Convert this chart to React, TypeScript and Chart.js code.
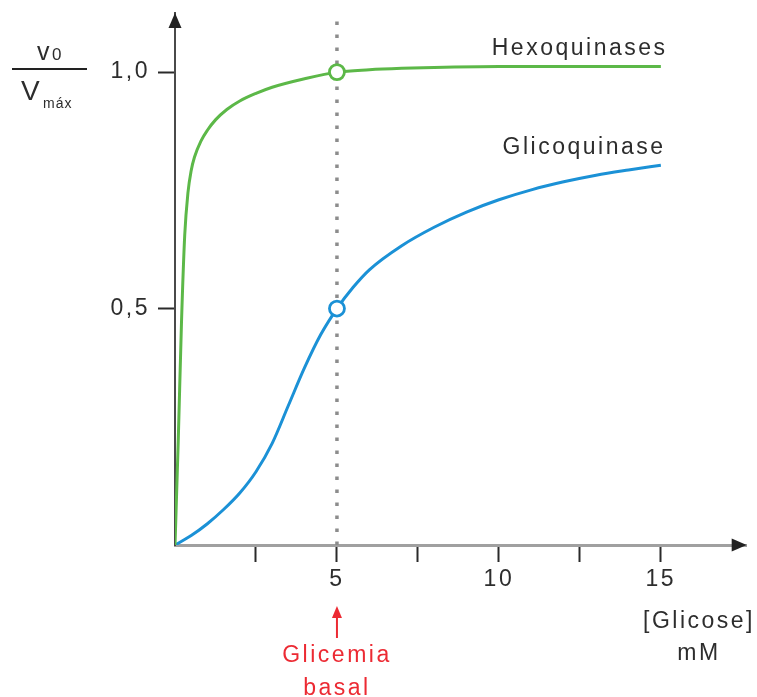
import React, { useEffect, useRef } from "react";
import Chart from "chart.js/auto";

// ---- data ----
const hexoX = [0, 0.1, 0.2, 0.3, 0.4, 0.5, 0.6, 0.8, 1.0, 1.25, 1.6, 2.0, 2.5, 3, 4, 5, 6, 7, 8, 10, 15];
const hexoY = [0, 0.22, 0.47, 0.655, 0.745, 0.792, 0.82, 0.854, 0.877, 0.899, 0.921, 0.939, 0.955, 0.968, 0.986, 1.0, 1.005, 1.008, 1.01, 1.012, 1.012];
const glicoX = [0, 0.5, 1.0, 1.5, 2.0, 2.5, 3.0, 3.5, 4.0, 4.5, 5, 5.5, 6, 7, 8, 9, 10, 11, 12, 13, 14, 15];
const glicoY = [0, 0.02, 0.045, 0.075, 0.11, 0.155, 0.215, 0.295, 0.375, 0.445, 0.5, 0.545, 0.582, 0.633, 0.672, 0.704, 0.73, 0.751, 0.768, 0.782, 0.793, 0.803];
const xTicks = [2.5, 5, 7.5, 10, 12.5, 15];
const xLabelled = [5, 10, 15];
const yTicks = [0.5, 1.0];
const basalGlucose = 5;
const hexoAtBasal = 1.0;
const glicoAtBasal = 0.5;
const xMax = 17.65;
const yMax = 1.125;
const seriesNames = ["Hexoquinases", "Glicoquinase"];
const xTitle = ["[Glicose]", "mM"];
const basalLabel = ["Glicemia", "basal"];

const GREEN = "#5cb848";
const BLUE = "#1b91d6";
const RED = "#ec2a33";
const TEXT = "#2d2d2d";
const FONT = "'Liberation Sans', Arial, sans-serif";

const W = 757;
const H = 697;

function pts(xs: number[], ys: number[]) {
  return xs.map((x, i) => ({ x, y: ys[i] }));
}

const annotPlugin = {
  id: "annot",
  beforeDraw(chart: any) {
    const ctx = chart.ctx;
    try {
      ctx.letterSpacing = "2.5px";
    } catch (e) {}
  },
  afterDraw(chart: any) {
    const ctx = chart.ctx;
    const xs = chart.scales.x;
    const area = chart.chartArea;
    ctx.save();
    // arrowheads
    ctx.fillStyle = "#222";
    ctx.beginPath();
    ctx.moveTo(area.left, area.top);
    ctx.lineTo(area.left - 6.5, area.top + 15);
    ctx.lineTo(area.left + 6.5, area.top + 15);
    ctx.closePath();
    ctx.fill();
    ctx.beginPath();
    ctx.moveTo(area.right, area.bottom);
    ctx.lineTo(area.right - 15, area.bottom - 6.5);
    ctx.lineTo(area.right - 15, area.bottom + 6.5);
    ctx.closePath();
    ctx.fill();

    const text = (s: string, x: number, y: number, size: number, align: string, color: string, spacing = "2.5px") => {
      ctx.font = `${size}px ${FONT}`;
      try {
        ctx.letterSpacing = spacing;
      } catch (e) {}
      ctx.fillStyle = color;
      ctx.textBaseline = "alphabetic";
      const w = ctx.measureText(s).width;
      let lx = x;
      if (align === "center") lx = x - w / 2;
      else if (align === "right") lx = x - w;
      ctx.textAlign = "left";
      ctx.fillText(s, lx, y);
    };

    // series labels
    text(seriesNames[0], 665 + 2.5, 55, 23, "right", TEXT);
    text(seriesNames[1], 663 + 2.5, 154, 23, "right", TEXT);

    // y title: v0 / Vmáx
    text("v", 37, 60, 25, "left", TEXT, "0px");
    text("0", 52, 60, 17, "left", TEXT, "0px");
    ctx.strokeStyle = "#222";
    ctx.lineWidth = 2;
    ctx.beginPath();
    ctx.moveTo(12, 69);
    ctx.lineTo(87, 69);
    ctx.stroke();
    text("V", 21, 100, 28, "left", TEXT, "0px");
    text("máx", 43, 108, 14, "left", TEXT, "1px");

    // x title
    text(xTitle[0], 699, 628, 23, "center", TEXT);
    text(xTitle[1], 699, 660, 23, "center", TEXT);

    // basal arrow + label
    const bx = xs.getPixelForValue(basalGlucose);
    ctx.strokeStyle = RED;
    ctx.fillStyle = RED;
    ctx.lineWidth = 2;
    ctx.beginPath();
    ctx.moveTo(bx, 638);
    ctx.lineTo(bx, 614);
    ctx.stroke();
    ctx.beginPath();
    ctx.moveTo(bx, 606);
    ctx.lineTo(bx - 5, 618);
    ctx.lineTo(bx + 5, 618);
    ctx.closePath();
    ctx.fill();
    text(basalLabel[0], bx, 662, 23, "center", RED);
    text(basalLabel[1], bx, 695, 23, "center", RED);
    ctx.restore();
  },
};

export default function App() {
  const ref = useRef<HTMLCanvasElement | null>(null);
  useEffect(() => {
    if (!ref.current) return;
    const chart = new Chart(ref.current, {
      type: "line",
      data: {
        datasets: [
          {
            label: "hexoPoint",
            data: [{ x: basalGlucose, y: hexoAtBasal }],
            showLine: false,
            pointRadius: 7.5,
            pointBorderWidth: 2.8,
            pointBackgroundColor: "#ffffff",
            pointBorderColor: GREEN,
            borderColor: GREEN,
          },
          {
            label: "glicoPoint",
            data: [{ x: basalGlucose, y: glicoAtBasal }],
            showLine: false,
            pointRadius: 7.5,
            pointBorderWidth: 2.8,
            pointBackgroundColor: "#ffffff",
            pointBorderColor: BLUE,
            borderColor: BLUE,
          },
          {
            label: seriesNames[0],
            data: pts(hexoX, hexoY),
            borderColor: GREEN,
            borderWidth: 3,
            pointRadius: 0,
            cubicInterpolationMode: "monotone",
            fill: false,
          },
          {
            label: seriesNames[1],
            data: pts(glicoX, glicoY),
            borderColor: BLUE,
            borderWidth: 3,
            pointRadius: 0,
            cubicInterpolationMode: "monotone",
            fill: false,
          },
          {
            label: "basal",
            data: [
              { x: basalGlucose, y: 0 },
              { x: basalGlucose, y: yMax - 0.005 },
            ],
            borderColor: "#8c8c8c",
            borderWidth: 3.5,
            borderDash: [3.5, 9.5],
            pointRadius: 0,
            fill: false,
          },
        ],
      },
      options: {
        responsive: false,
        animation: false,
        events: [],
        layout: { padding: { top: 13, right: 10, left: 0, bottom: 0 } },
        plugins: {
          legend: { display: false },
          tooltip: { enabled: false },
          title: { display: false },
        },
        scales: {
          x: {
            type: "linear",
            min: 0,
            max: xMax,
            afterFit: (s: any) => {
              s.height = H - 545;
              s.paddingLeft = 0;
              s.paddingRight = 0;
            },
            afterBuildTicks: (s: any) => {
              s.ticks = xTicks.map((v) => ({ value: v }));
            },
            ticks: {
              autoSkip: false,
              maxRotation: 0,
              padding: 4,
              color: TEXT,
              font: { family: FONT, size: 23 },
              callback: (v: any) => (xLabelled.includes(Number(v)) ? String(v) : ""),
            },
            grid: {
              drawOnChartArea: false,
              drawTicks: true,
              tickLength: 17,
              tickWidth: 2,
              tickColor: "#2a2a2a",
            },
            border: { display: true, color: "#a0a0a0", width: 3 },
          },
          y: {
            type: "linear",
            min: 0,
            max: yMax,
            afterFit: (s: any) => {
              s.width = 175;
              s.paddingTop = 0;
              s.paddingBottom = 0;
            },
            afterBuildTicks: (s: any) => {
              s.ticks = yTicks.map((v) => ({ value: v }));
            },
            ticks: {
              padding: 8,
              color: TEXT,
              font: { family: FONT, size: 23 },
              callback: (v: any) => Number(v).toFixed(1).replace(".", ","),
            },
            grid: {
              drawOnChartArea: false,
              drawTicks: true,
              tickLength: 17,
              tickWidth: 2,
              tickColor: "#2a2a2a",
            },
            border: { display: true, color: "#4a4a4a", width: 2 },
          },
        },
      },
      plugins: [annotPlugin],
    } as any);
    return () => chart.destroy();
  }, []);
  return (
    <div style={{ position: "fixed", left: 0, top: 0, width: W, height: H, background: "#fff" }}>
      <canvas ref={ref} width={W} height={H} style={{ width: W, height: H, display: "block" }} />
    </div>
  );
}
